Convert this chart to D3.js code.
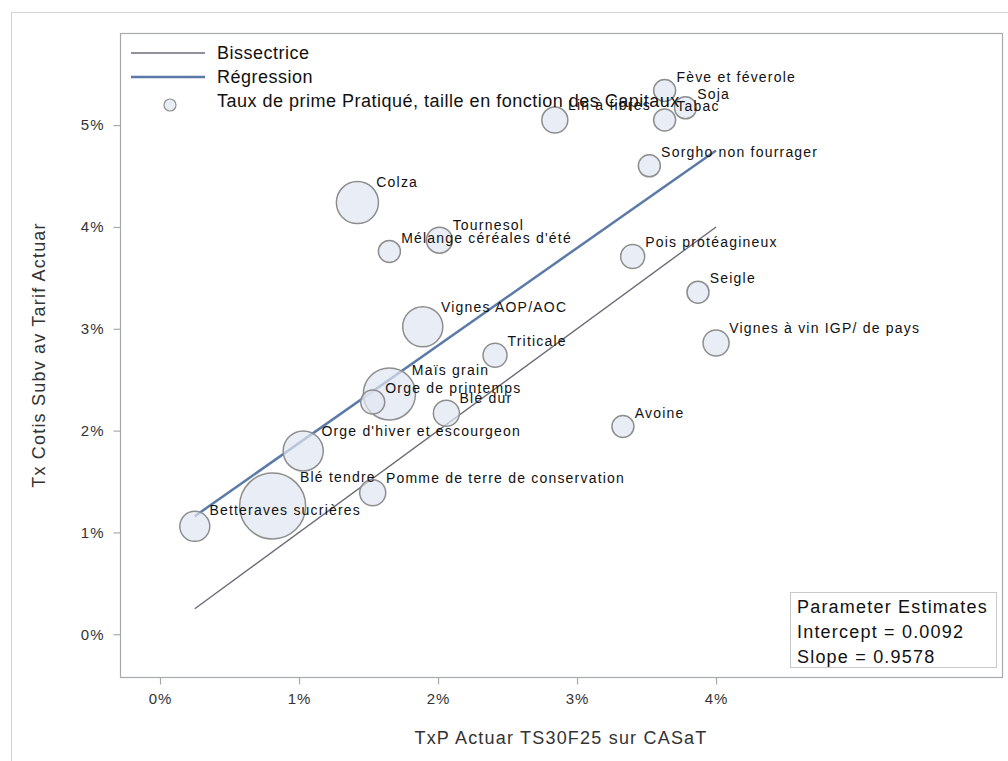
<!DOCTYPE html>
<html>
<head>
<meta charset="utf-8">
<script src="https://cdn.jsdelivr.net/npm/d3@7/dist/d3.min.js"></script>
<style>
  body { margin: 0; background: #fff; }
  svg { display: block; }
  text { font-family: "Liberation Sans", Arial, sans-serif; }
</style>
</head>
<body>
<svg id="chart" width="1008" height="761"></svg>
<script>
// ---- Data ----
const categories = [
  "Betteraves sucrières", "Blé tendre", "Orge d'hiver et escourgeon", "Maïs grain",
  "Orge de printemps", "Blé dur", "Avoine", "Pomme de terre de conservation",
  "Triticale", "Vignes AOP/AOC", "Tournesol", "Mélange céréales d'été", "Colza",
  "Pois protéagineux", "Seigle", "Vignes à vin IGP/ de pays", "Sorgho non fourrager",
  "Fève et féverole", "Soja", "Tabac", "Lin à fibres"
];
// TxP Actuar TS30F25 sur CASaT (%)
const txpActuar = [0.25, 0.81, 1.03, 1.65, 1.53, 2.06, 3.33, 1.53,
  2.41, 1.89, 2.01, 1.65, 1.42, 3.40, 3.87, 4.00, 3.52, 3.63, 3.78, 3.63, 2.84];
// Tx Cotis Subv av Tarif Actuar (%)
const txCotis = [1.06, 1.26, 1.80, 2.36, 2.28, 2.17, 2.04, 1.39,
  2.74, 3.02, 3.87, 3.76, 4.24, 3.71, 3.36, 2.86, 4.60, 5.34, 5.17, 5.05, 5.05];
// Capitaux (bubble size)
const capitaux = [410, 2200, 910, 1510, 110, 210, 10, 210,
  110, 910, 210, 10, 1010, 110, 10, 210, 10, 10, 10, 10, 210];

const xTicks = [0, 1, 2, 3, 4];
const yTicks = [0, 1, 2, 3, 4, 5];
const intercept = 0.0092;
const slope = 0.9578;
const legendItems = ["Bissectrice", "Régression", "Taux de prime Pratiqué, taille en fonction des Capitaux"];
const paramLines = ["Parameter Estimates", "Intercept = 0.0092", "Slope = 0.9578"];

// ---- Layout ----
const svg = d3.select("#chart");
const plot = { left: 120, right: 1002, top: 33, bottom: 677 };

const x = d3.scaleLinear().domain([-0.288, 6.057]).range([plot.left, plot.right]);
const y = d3.scaleLinear().domain([-0.42, 5.905]).range([plot.bottom, plot.top]);
const r = d3.scaleLinear().domain([d3.min(capitaux), d3.max(capitaux)]).range([11, 33]);

const data = categories.map((c, i) => ({ name: c, x: txpActuar[i], y: txCotis[i], cap: capitaux[i] }));

// outer frame
svg.append("rect").attr("x", 11.5).attr("y", 12.5).attr("width", 1010).attr("height", 760)
  .attr("fill", "none").attr("stroke", "#d4d4d4").attr("stroke-width", 1);

// plot frame
svg.append("rect").attr("x", plot.left + 0.5).attr("y", plot.top + 0.5)
  .attr("width", plot.right - plot.left).attr("height", plot.bottom - plot.top)
  .attr("fill", "#fff").attr("stroke", "#a6aaae").attr("stroke-width", 1.2);

// axes
const xAxis = svg.append("g").attr("transform", `translate(0,${plot.bottom + 0.5})`)
  .call(d3.axisBottom(x).tickValues(xTicks).tickSize(7).tickPadding(9).tickFormat(d => d + "%"));
const yAxis = svg.append("g").attr("transform", `translate(${plot.left + 0.5},0)`)
  .call(d3.axisLeft(y).tickValues(yTicks).tickSize(7).tickPadding(9).tickFormat(d => d + "%"));
[xAxis, yAxis].forEach(a => {
  a.select(".domain").remove();
  a.selectAll(".tick line").attr("stroke", "#a6aaae").attr("stroke-width", 1.2);
  a.selectAll(".tick text").attr("fill", "#333").style("font-size", "15px")
    .style("letter-spacing", "1px").style("font-family", "'Liberation Sans', Arial, sans-serif");
});

// axis titles
svg.append("text").attr("x", (plot.left + plot.right) / 2).attr("y", 744)
  .attr("text-anchor", "middle").attr("fill", "#333").style("font-size", "18px")
  .style("letter-spacing", "1.2px")
  .text("TxP Actuar TS30F25 sur CASaT");
svg.append("text").attr("transform", `translate(45,${(plot.top + plot.bottom) / 2}) rotate(-90)`)
  .attr("text-anchor", "middle").attr("fill", "#333").style("font-size", "18px")
  .style("letter-spacing", "1.2px")
  .text("Tx Cotis Subv av Tarif Actuar");

const xmin = d3.min(txpActuar), xmax = d3.max(txpActuar);

// bisectrice
svg.append("line")
  .attr("x1", x(xmin)).attr("y1", y(xmin))
  .attr("x2", x(xmax)).attr("y2", y(xmax))
  .attr("stroke", "#6c6c78").attr("stroke-width", 1.4);

// regression
const reg = v => intercept * 100 + slope * v;
svg.append("line")
  .attr("x1", x(xmin)).attr("y1", y(reg(xmin)))
  .attr("x2", x(xmax)).attr("y2", y(reg(xmax)))
  .attr("stroke", "#5b7aa8").attr("stroke-width", 2.5);

// bubbles
svg.append("g").selectAll("circle").data(data).join("circle")
  .attr("cx", d => x(d.x)).attr("cy", d => y(d.y)).attr("r", d => r(d.cap))
  .attr("fill", "#dfe6f1").attr("fill-opacity", 0.7)
  .attr("stroke", "#8e8e8e").attr("stroke-width", 1.5);

// labels
const k = Math.SQRT1_2;
svg.append("g").selectAll("text").data(data).join("text")
  .attr("x", d => x(d.x) + r(d.cap) * k + 4)
  .attr("y", d => y(d.y) - r(d.cap) * k - 1)
  .attr("fill", "#111").style("font-size", "14px").style("letter-spacing", "1.2px")
  .text(d => d.name);

// legend
const lg = svg.append("g");
lg.append("line").attr("x1", 131).attr("x2", 205).attr("y1", 53).attr("y2", 53)
  .attr("stroke", "#6c6c78").attr("stroke-width", 1.4);
lg.append("line").attr("x1", 131).attr("x2", 205).attr("y1", 77).attr("y2", 77)
  .attr("stroke", "#5b7aa8").attr("stroke-width", 2.5);
lg.append("circle").attr("cx", 170).attr("cy", 105).attr("r", 6)
  .attr("fill", "#dfe6f1").attr("fill-opacity", 0.7).attr("stroke", "#8e8e8e").attr("stroke-width", 1.2);
legendItems.forEach((t, i) => {
  lg.append("text").attr("x", 217).attr("y", 59 + i * 24).attr("fill", "#111")
    .style("font-size", "18px").style("letter-spacing", "0.5px").text(t);
});

// parameter estimates box
svg.append("rect").attr("x", 790.5).attr("y", 592.5).attr("width", 206).attr("height", 75)
  .attr("fill", "#fff").attr("stroke", "#c8c8c8").attr("stroke-width", 1);
paramLines.forEach((t, i) => {
  svg.append("text").attr("x", 797).attr("y", 613 + i * 25).attr("fill", "#111")
    .style("font-size", "18px").style("letter-spacing", "1.2px").text(t);
});
</script>
</body>
</html>
